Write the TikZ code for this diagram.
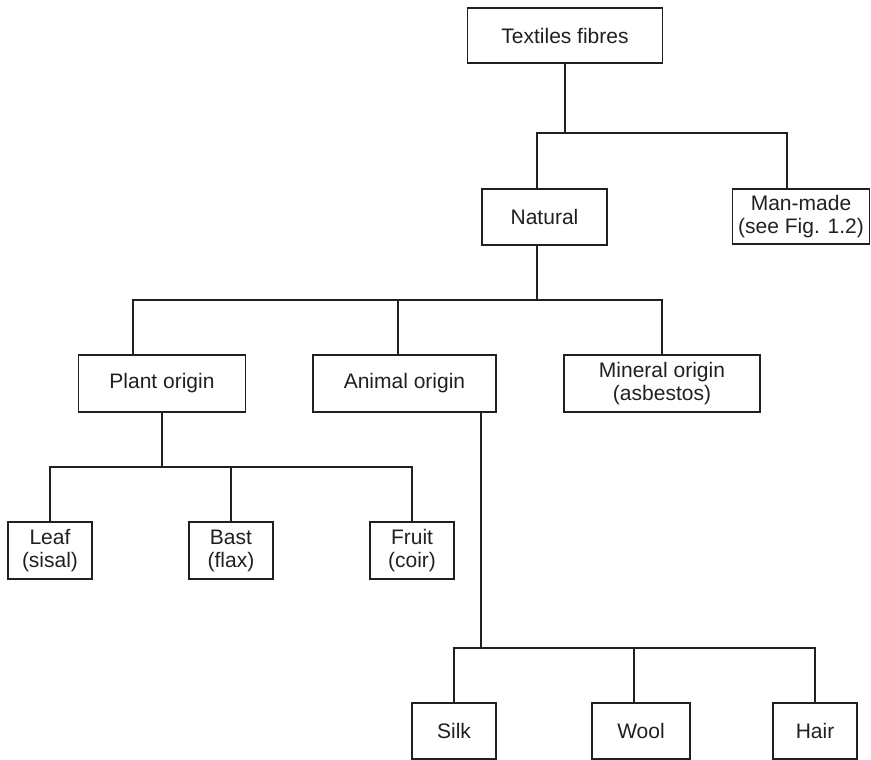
\documentclass[tikz,border=0pt]{standalone}
\usepackage{fontspec}
\setmainfont{Liberation Sans}
\definecolor{ink}{HTML}{231F20}
\begin{document}
\begin{tikzpicture}[x=1pt,y=-1pt,
  box/.style={draw=ink,line width=1.7pt,inner sep=0pt,outer sep=0pt,align=center,
    text=ink,font=\fontsize{21}{23}\selectfont},
  link/.style={draw=ink,line width=1.7pt}]
\useasboundingbox (0,0) rectangle (871,760);
% boxes
\node[box,minimum width=195,minimum height=55] (top) at (565,35.5) {Textiles fibres};
\node[box,minimum width=125,minimum height=56] (natural) at (544.5,217) {Natural};
\node[box,minimum width=137,minimum height=55] (mm) at (801,216.5) {Man-made\\(see Fig. 1.2)};
\node[box,minimum width=167,minimum height=57] (plant) at (162,383.5) {Plant origin};
\node[box,minimum width=183,minimum height=57] (animal) at (404.5,383.5) {Animal origin};
\node[box,minimum width=196,minimum height=57] (mineral) at (662,383.5) {Mineral origin\\(asbestos)};
\node[box,line width=2.3pt,minimum width=84,minimum height=57] (leaf) at (50,550.5) {Leaf\\(sisal)};
\node[box,minimum width=84,minimum height=57] (bast) at (231,550.5) {Bast\\(flax)};
\node[box,minimum width=84,minimum height=57] (fruit) at (412,550.5) {Fruit\\(coir)};
\node[box,minimum width=84,minimum height=56] (silk) at (454,731) {Silk};
\node[box,minimum width=98,minimum height=56] (wool) at (641,731) {Wool};
\node[box,minimum width=84,minimum height=56] (hair) at (815,731) {Hair};
% junction coordinates
\coordinate (b1L) at (537,133);
\coordinate (b1R) at (787,133);
\coordinate (b2L) at (133,300);
\coordinate (b2M) at (398,300);
\coordinate (b2J) at (537,300);
\coordinate (b2R) at (662,300);
\coordinate (b3L) at (50,467);
\coordinate (b3R) at (412,467);
\coordinate (b4L) at (454,648);
\coordinate (b4J) at (481,648);
\coordinate (b4M) at (634,648);
\coordinate (b4R) at (815,648);
% level 1
\draw[link] (top.south) -- (top.south |- b1L);
\draw[link] (b1L |- natural.north) -- (b1L) -- (b1R) -- (b1R |- mm.north);
% level 2
\draw[link] (b2J |- natural.south) -- (b2J);
\draw[link] (b2L |- plant.north) -- (b2L) -- (b2R) -- (mineral.north);
\draw[link] (b2M) -- (b2M |- animal.north);
% level 3
\draw[link] (plant.south) -- (plant.south |- b3L);
\draw[link] (leaf.north) -- (b3L) -- (b3R) -- (fruit.north);
\draw[link] (bast.north) -- (bast.north |- b3L);
% level 4
\draw[link] (b4J |- animal.south) -- (b4J);
\draw[link] (silk.north) -- (b4L) -- (b4R) -- (hair.north);
\draw[link] (b4M) -- (b4M |- wool.north);
\end{tikzpicture}
\end{document}
